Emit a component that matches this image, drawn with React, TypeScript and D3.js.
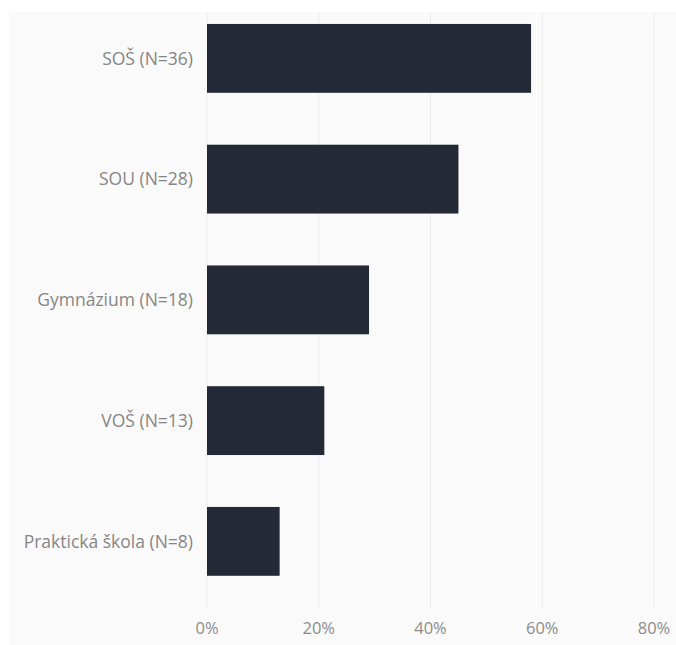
import React from "react";
import * as d3 from "d3";

const categories = ["SOŠ (N=36)", "SOU (N=28)", "Gymnázium (N=18)", "VOŠ (N=13)", "Praktická škola (N=8)"];
const values = [58, 45, 29, 21, 13];
const ticks = [0, 20, 40, 60, 80];

const W = 676;
const H = 645;

export default function App() {
  const x = d3.scaleLinear().domain([0, 80]).range([207, 654]);
  const y = d3
    .scaleBand<string>()
    .domain(categories)
    .range([-2, 601.75])
    .paddingInner(0.43)
    .paddingOuter(0.215);
  const font = "'Open Sans', sans-serif";
  return (
    <svg
      width={W}
      height={H}
      style={{ position: "absolute", left: 0, top: 0, display: "block" }}
    >
      <rect x={0} y={0} width={W} height={H} fill="#ffffff" />
      <rect x={9} y={12} width={W - 9} height={H - 12} fill="#fafafa" />
      {ticks.map((t) => (
        <g key={t}>
          <line x1={x(t)} x2={x(t)} y1={12} y2={608} stroke="#ececec" strokeWidth={1} />
          <text
            x={x(t)}
            y={634}
            textAnchor="middle"
            fontFamily={font}
            fontSize={16.5}
            fill="#8c8c8c"
          >
            {t}%
          </text>
        </g>
      ))}
      {categories.map((c, i) => (
        <g key={c}>
          <rect
            x={x(0)}
            y={y(c)!}
            width={x(values[i]) - x(0)}
            height={y.bandwidth()}
            fill="#232a36"
          />
          <text
            x={193}
            y={y(c)! + y.bandwidth() / 2}
            dy="0.35em"
            textAnchor="end"
            fontFamily={font}
            fontSize={17.5}
            fill="#868686"
          >
            {c}
          </text>
        </g>
      ))}
    </svg>
  );
}
